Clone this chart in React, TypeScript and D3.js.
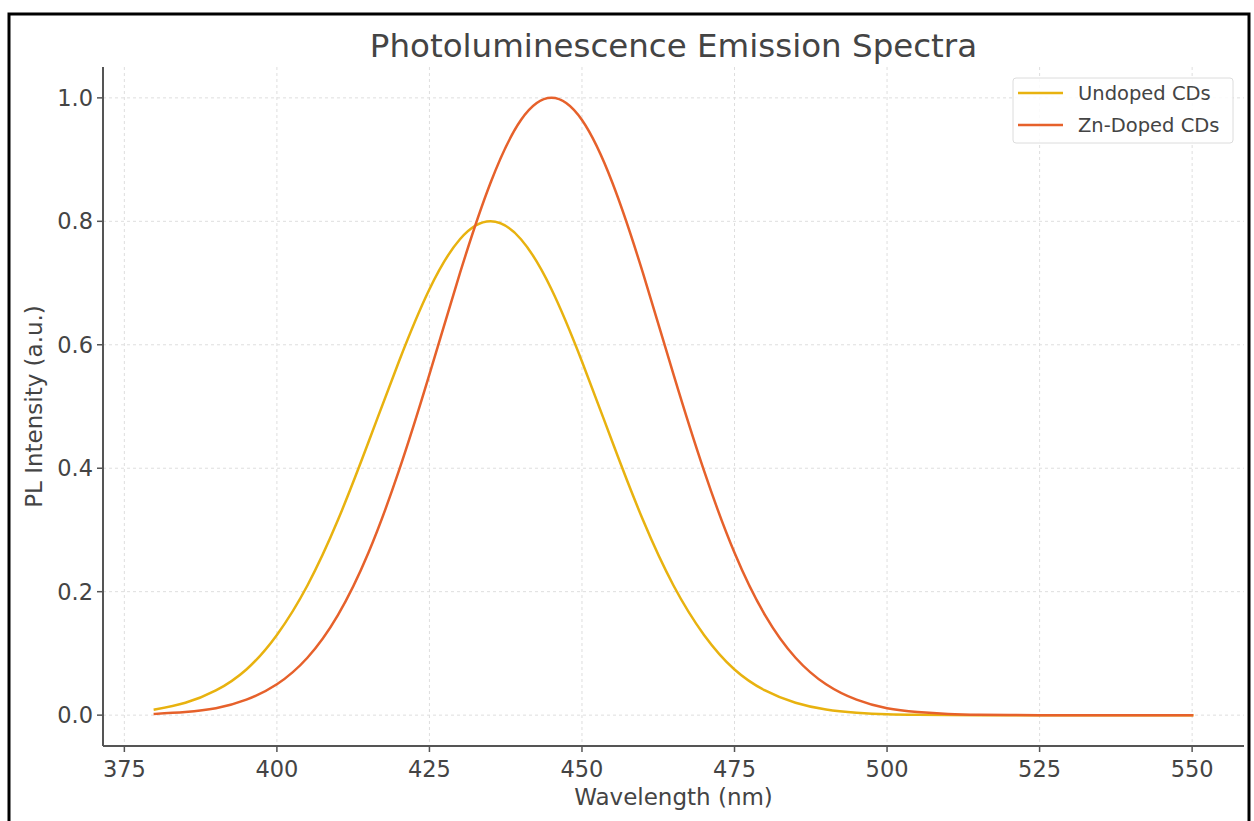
import React from "react";
import * as d3 from "d3";

const wavelengths = [380,385,390,395,400,405,410,415,420,425,430,435,440,445,450,455,460,465,470,475,480,485,490,495,500,505,510,515,520,525,530,535,540,545,550];
const undoped = [0.009,0.020,0.040,0.074,0.130,0.210,0.316,0.442,0.573,0.690,0.771,0.800,0.771,0.690,0.573,0.442,0.316,0.210,0.130,0.074,0.040,0.020,0.009,0.004,0.0015,0.0006,0.0002,0,0,0,0,0,0,0,0];
const znDoped = [0.002,0.005,0.011,0.025,0.050,0.093,0.162,0.263,0.396,0.552,0.716,0.862,0.964,1.0,0.964,0.862,0.716,0.552,0.396,0.263,0.162,0.093,0.050,0.025,0.011,0.005,0.002,0.0007,0.0002,0,0,0,0,0,0];
const xTicks = [375,400,425,450,475,500,525,550];
const yTicks = [0,0.2,0.4,0.6,0.8,1.0];
const seriesNames = ["Undoped CDs","Zn-Doped CDs"];
const seriesColors = ["#E8B20F","#E6612B"];

const W = 1254, H = 821;
const L = 103, R = 1244, T = 67, B = 746;
const FONT = "DejaVu Sans, sans-serif";
const TXT = "#444";

export default function App() {
  const x = d3.scaleLinear().domain([371.5, 558.5]).range([L, R]);
  const y = d3.scaleLinear().domain([-0.05, 1.05]).range([B, T]);
  const series = [undoped, znDoped];
  const line = d3.line<number>()
    .x((_, i) => x(wavelengths[i]))
    .y((d) => y(d))
    .curve(d3.curveNatural);

  return (
    <svg width={W} height={H} style={{ position: "absolute", left: 0, top: 0, background: "#fff" }} fontFamily={FONT}>
      <rect x={0} y={0} width={W} height={H} fill="#fff" />
      {/* grid */}
      {xTicks.map((t) => (
        <line key={"gx" + t} x1={x(t)} x2={x(t)} y1={T} y2={B} stroke="#dedede" strokeWidth={1} strokeDasharray="3,3" />
      ))}
      {yTicks.map((t) => (
        <line key={"gy" + t} x1={L} x2={R} y1={y(t)} y2={y(t)} stroke="#dedede" strokeWidth={1} strokeDasharray="3,3" />
      ))}
      {/* lines */}
      {series.map((s, i) => (
        <path key={"s" + i} d={line(s) || ""} fill="none" stroke={seriesColors[i]} strokeWidth={2.5} strokeLinejoin="round" strokeLinecap="square" />
      ))}
      {/* spines */}
      <line x1={L} x2={L} y1={T} y2={B} stroke="#555" strokeWidth={2} />
      <line x1={L} x2={R} y1={B} y2={B} stroke="#555" strokeWidth={2} />
      {/* x ticks */}
      {xTicks.map((t) => (
        <g key={"xt" + t}>
          <line x1={x(t)} x2={x(t)} y1={B} y2={B + 6} stroke="#555" strokeWidth={1.5} />
          <text x={x(t)} y={B + 31} textAnchor="middle" fontSize={22.5} fill={TXT}>{t}</text>
        </g>
      ))}
      {/* y ticks */}
      {yTicks.map((t) => (
        <g key={"yt" + t}>
          <line x1={L - 6} x2={L} y1={y(t)} y2={y(t)} stroke="#555" strokeWidth={1.5} />
          <text x={L - 10} y={y(t)} textAnchor="end" dominantBaseline="central" fontSize={22.5} fill={TXT}>{t.toFixed(1)}</text>
        </g>
      ))}
      {/* axis labels */}
      <text x={(L + R) / 2} y={805} textAnchor="middle" fontSize={23} fill={TXT}>Wavelength (nm)</text>
      <text transform={`translate(42, ${(T + B) / 2}) rotate(-90)`} textAnchor="middle" fontSize={23} fill={TXT}>PL Intensity (a.u.)</text>
      {/* title */}
      <text x={(L + R) / 2} y={57} textAnchor="middle" fontSize={32.5} fill={TXT}>Photoluminescence Emission Spectra</text>
      {/* legend */}
      <rect x={1013} y={78} width={220} height={65} rx={3} fill="#fff" fillOpacity={0.85} stroke="#dcdcdc" strokeWidth={1} />
      {seriesNames.map((n, i) => (
        <g key={"lg" + i}>
          <line x1={1018} x2={1063} y1={93 + i * 32} y2={93 + i * 32} stroke={seriesColors[i]} strokeWidth={2.5} />
          <text x={1078} y={93 + i * 32} dominantBaseline="central" fontSize={19.5} fill={TXT}>{n}</text>
        </g>
      ))}
      {/* frame */}
      <rect x={9} y={14} width={1240} height={830} fill="none" stroke="#000" strokeWidth={3} />
    </svg>
  );
}
